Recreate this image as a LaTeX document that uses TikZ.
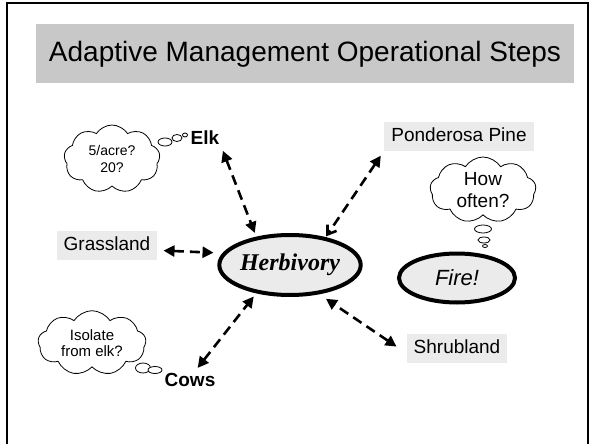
\documentclass[tikz,border=0pt]{standalone}
\usepackage{fontspec}
\setmainfont{Liberation Sans}
\newfontfamily\timesfont{Liberation Serif}
\usetikzlibrary{shapes.symbols,shapes.geometric,arrows.meta}
\definecolor{titlegray}{RGB}{200,200,200}
\definecolor{boxgray}{RGB}{235,235,235}
\tikzset{
  labelbox/.style={fill=boxgray, inner xsep=7pt, inner ysep=5.5pt, text height=14pt, text depth=4pt,
    font=\fontsize{19}{21}\selectfont},
  animal/.style={inner sep=2pt, font=\fontsize{19}{21}\selectfont\bfseries},
  topic/.style={ellipse, draw, line width=4pt, fill=boxgray, inner sep=0pt},
  thought/.style={cloud, cloud puffs=9, cloud puff arc=115, draw, line width=0.8pt, fill=white,
    align=center, inner sep=0pt},
  bubble/.style={ellipse, draw, line width=0.8pt, fill=white, inner sep=0pt},
  link/.style={line width=2.6pt, dash pattern=on 10pt off 6pt,
    {Triangle[width=11pt,length=11pt]}-{Triangle[width=11pt,length=11pt]}},
}
\begin{document}
\begin{tikzpicture}[x=1pt,y=-1pt]
  \useasboundingbox (0,0) rectangle (592,444);
  \draw[line width=2pt] (7,445) -- (7,3) -- (588,3) -- (588,445);
  \node[fill=titlegray, minimum width=538pt, minimum height=59pt, inner sep=0pt,
    font=\fontsize{28}{30}\selectfont] (title) at (305,54) {Adaptive Management Operational Steps};

  \node[topic, minimum width=122pt, minimum height=60pt,
    font=\fontsize{24}{26}\selectfont\timesfont\bfseries\itshape] (herb) at (290,265) {Herbivory};
  \node[topic, minimum width=116pt, minimum height=49pt,
    font=\fontsize{22}{24}\selectfont\itshape] (fire) at (457,278) {Fire!};

  \node[animal] (elk) at (205,138) {Elk};
  \node[animal] (cows) at (190,380) {Cows};
  \node[labelbox] (pine) at (459,136) {Ponderosa Pine};
  \node[labelbox] (grass) at (107,245) {Grassland};
  \node[labelbox] (shrub) at (457,348) {Shrubland};

  \node[thought, aspect=1.4, minimum width=96pt, minimum height=68pt,
    font=\fontsize{14}{17}\selectfont] (q1) at (112,159) {5/acre?\\20?};
  \node[bubble, minimum width=14pt, minimum height=8pt] (q1a) at (165,142) {};
  \node[bubble, minimum width=10pt, minimum height=7pt] (q1b) at (177,138) {};
  \node[bubble, minimum width=5pt, minimum height=4pt] (q1c) at (185,135) {};

  \node[thought, aspect=1.65, minimum width=106pt, minimum height=66pt,
    font=\fontsize{19}{22}\selectfont] (q2) at (483,190) {How\\often?};
  \node[bubble, minimum width=17pt, minimum height=8pt] (q2a) at (483,229) {};
  \node[bubble, minimum width=12pt, minimum height=6pt] (q2b) at (484,240) {};
  \node[bubble, minimum width=5pt, minimum height=3pt] (q2c) at (485,246) {};

  \node[thought, aspect=1.7, minimum width=108pt, minimum height=64pt,
    font=\fontsize{15}{16}\selectfont] (q3) at (92,343) {Isolate\\from elk?};
  \node[bubble, minimum width=15pt, minimum height=10pt] (q3a) at (143,368) {};
  \node[bubble, minimum width=14pt, minimum height=7pt] (q3b) at (155,370) {};

  \begin{scope}[link]
    \draw[shorten <=4pt, shorten >=4pt] (elk.south east) -- (herb.140);
    \draw[shorten <=6pt, shorten >=1pt,
      {Triangle[width=11pt,length=11pt]}-{Straight Barb[width=11pt,length=8pt]}] (pine.south west) -- (herb.38);
    \draw[shorten <=6pt, shorten >=9pt] (grass.-6) -- (herb.170);
    \draw[shorten <=4pt, shorten >=4pt] (cows.60) -- (herb.220);
    \draw[shorten <=12pt, shorten >=8pt] (shrub.186) -- (herb.-45);
  \end{scope}
\end{tikzpicture}
\end{document}
